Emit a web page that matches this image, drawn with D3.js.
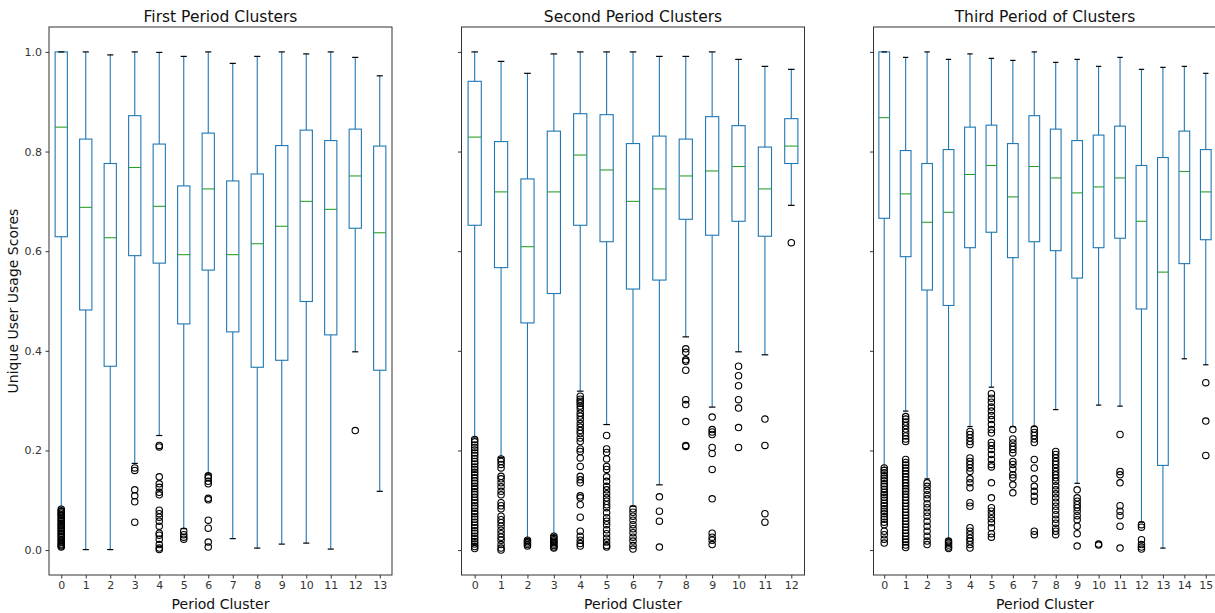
<!DOCTYPE html>
<html>
<head>
<meta charset="utf-8">
<script src="https://cdnjs.cloudflare.com/ajax/libs/d3/7.8.5/d3.min.js"></script>
<style>
  body { margin: 0; background: #fff; }
  text { font-family: "DejaVu Sans", sans-serif; }
</style>
</head>
<body>
<svg id="chart" width="1215" height="613"></svg>
<script>
// ---- data ----
var yTicks = [0.0, 0.2, 0.4, 0.6, 0.8, 1.0];

// first period
var p1Clusters = [0,1,2,3,4,5,6,7,8,9,10,11,12,13];
var p1Hi  = [1.0,1.0,0.994,1.0,0.999,0.991,1.0,0.977,0.991,1.0,0.996,1.0,0.989,0.952];
var p1Q3  = [1.0,0.825,0.776,0.872,0.815,0.731,0.837,0.741,0.755,0.812,0.843,0.822,0.845,0.811];
var p1Med = [0.849,0.688,0.627,0.768,0.690,0.593,0.725,0.593,0.615,0.650,0.700,0.684,0.751,0.637];
var p1Q1  = [0.629,0.482,0.369,0.591,0.576,0.454,0.562,0.438,0.367,0.381,0.499,0.432,0.646,0.361];
var p1Lo  = [0.083,0.001,0.001,0.174,0.230,0.043,0.153,0.023,0.004,0.012,0.014,0.002,0.398,0.118];
var p1Fliers = [
  [0.082,0.079,0.077,0.074,0.071,0.069,0.066,0.063,0.06,0.058,0.054,0.051,0.049,0.046,0.043,0.04,0.037,0.034,0.031,0.028,0.025,0.021,0.018,0.015,0.012,0.01,0.008,0.006],
  [], [],
  [0.165,0.16,0.121,0.109,0.097,0.056],
  [0.21,0.207,0.147,0.133,0.126,0.116,0.111,0.08,0.073,0.066,0.058,0.048,0.034,0.03,0.022,0.011,0.004,0.001],
  [0.038,0.031,0.026,0.022],
  [0.149,0.145,0.138,0.133,0.104,0.101,0.06,0.044,0.016,0.006],
  [], [], [], [], [],
  [0.24],
  []
];

// second period
var p2Clusters = [0,1,2,3,4,5,6,7,8,9,10,11,12];
var p2Hi  = [1.0,0.981,0.957,0.996,1.0,1.0,1.0,0.991,0.991,1.0,0.985,0.971,0.965];
var p2Q3  = [0.941,0.820,0.745,0.841,0.876,0.874,0.816,0.831,0.825,0.870,0.852,0.809,0.866];
var p2Med = [0.829,0.719,0.609,0.719,0.793,0.763,0.700,0.725,0.751,0.761,0.770,0.725,0.811];
var p2Q1  = [0.652,0.567,0.456,0.515,0.652,0.619,0.524,0.542,0.664,0.632,0.660,0.630,0.776];
var p2Lo  = [0.225,0.186,0.022,0.029,0.319,0.252,0.088,0.131,0.428,0.287,0.398,0.392,0.692];
var p2Fliers = [
  [0.222,0.217,0.211,0.206,0.201,0.195,0.19,0.184,0.178,0.173,0.167,0.162,0.156,0.151,0.145,0.139,0.134,0.128,0.123,0.117,0.112,0.106,0.1,0.095,0.089,0.084,0.078,0.073,0.067,0.062,0.056,0.05,0.045,0.039,0.034,0.028,0.023,0.017,0.012,0.007,0.003],
  [0.183,0.178,0.172,0.165,0.148,0.143,0.135,0.127,0.118,0.111,0.095,0.089,0.083,0.068,0.061,0.055,0.048,0.04,0.033,0.026,0.02,0.011,0.004,0.0],
  [0.02,0.017,0.014,0.011,0.008],
  [0.028,0.025,0.021,0.018,0.015,0.012,0.009,0.006,0.004],
  [0.309,0.303,0.299,0.295,0.289,0.283,0.275,0.269,0.262,0.254,0.247,0.24,0.234,0.225,0.218,0.203,0.198,0.185,0.168,0.148,0.141,0.135,0.109,0.105,0.091,0.066,0.038,0.028,0.02,0.013,0.008],
  [0.23,0.203,0.196,0.183,0.168,0.162,0.147,0.138,0.128,0.121,0.113,0.105,0.098,0.091,0.085,0.075,0.065,0.058,0.051,0.041,0.033,0.024,0.016,0.009,0.006],
  [0.083,0.076,0.068,0.06,0.051,0.043,0.035,0.026,0.018,0.009,0.002],
  [0.107,0.078,0.058,0.006],
  [0.404,0.397,0.382,0.379,0.361,0.302,0.292,0.258,0.21,0.208],
  [0.267,0.242,0.237,0.232,0.206,0.194,0.162,0.103,0.034,0.026,0.02,0.011],
  [0.369,0.35,0.33,0.302,0.285,0.246,0.206],
  [0.263,0.21,0.073,0.056],
  [0.617]
];

// third period
var p3Clusters = [0,1,2,3,4,5,6,7,8,9,10,11,12,13,14,15];
var p3Hi  = [1.0,0.989,1.0,0.985,0.996,0.987,0.983,1.0,0.979,0.985,0.971,0.989,0.965,0.969,0.971,0.957];
var p3Q3  = [1.0,0.802,0.776,0.804,0.849,0.853,0.816,0.872,0.845,0.822,0.833,0.851,0.772,0.788,0.841,0.804];
var p3Med = [0.868,0.715,0.658,0.678,0.754,0.772,0.709,0.770,0.747,0.717,0.729,0.747,0.660,0.558,0.760,0.719];
var p3Q1  = [0.666,0.589,0.522,0.491,0.607,0.638,0.587,0.619,0.601,0.546,0.607,0.626,0.484,0.170,0.575,0.623];
var p3Lo  = [0.166,0.279,0.143,0.022,0.248,0.327,0.248,0.248,0.282,0.134,0.291,0.289,0.056,0.004,0.384,0.372];
var p3Fliers = [
  [0.165,0.16,0.155,0.149,0.144,0.139,0.133,0.128,0.122,0.116,0.111,0.106,0.1,0.094,0.089,0.083,0.078,0.073,0.067,0.062,0.056,0.051,0.038,0.031,0.022,0.014],
  [0.268,0.263,0.257,0.25,0.243,0.236,0.229,0.223,0.218,0.182,0.176,0.171,0.165,0.159,0.153,0.147,0.141,0.135,0.129,0.123,0.118,0.112,0.106,0.1,0.094,0.088,0.082,0.076,0.07,0.064,0.058,0.052,0.046,0.04,0.034,0.028,0.022,0.016,0.01,0.005],
  [0.135,0.128,0.12,0.111,0.103,0.093,0.085,0.076,0.068,0.058,0.048,0.038,0.028,0.018,0.011],
  [0.018,0.014,0.01,0.006,0.003],
  [0.238,0.232,0.225,0.218,0.212,0.185,0.178,0.172,0.165,0.158,0.143,0.135,0.125,0.095,0.088,0.045,0.038,0.031,0.024,0.018,0.011,0.004],
  [0.314,0.305,0.297,0.287,0.279,0.27,0.262,0.252,0.242,0.235,0.216,0.21,0.202,0.192,0.182,0.172,0.167,0.135,0.105,0.085,0.078,0.071,0.063,0.055,0.045,0.033,0.026],
  [0.242,0.223,0.215,0.208,0.202,0.195,0.178,0.172,0.163,0.151,0.145,0.131,0.115],
  [0.243,0.236,0.23,0.223,0.216,0.182,0.165,0.143,0.128,0.118,0.108,0.098,0.038,0.031],
  [0.198,0.192,0.185,0.178,0.172,0.165,0.158,0.151,0.145,0.138,0.129,0.121,0.113,0.105,0.096,0.088,0.08,0.071,0.062,0.054,0.044,0.038,0.031],
  [0.121,0.105,0.098,0.091,0.085,0.078,0.069,0.061,0.048,0.033,0.008],
  [0.012,0.01],
  [0.232,0.158,0.151,0.135,0.089,0.078,0.069,0.048,0.004],
  [0.051,0.046,0.021,0.011,0.006,0.002],
  [],
  [],
  [0.336,0.259,0.19]
];

// ---- layout ----
var plotTop = 27, plotBottom = 575, panelW = 343;
var boxColor = "#1f77b4", medColor = "#2ca02c";

var svg = d3.select("#chart");

var y = d3.scaleLinear().domain([-0.05, 1.05]).range([plotBottom, plotTop]);

function buildBoxPanel(opts) {
  var n = opts.clusters.length;
  var g = svg.append("g").attr("transform", "translate(" + opts.left + ",0)");

  var x = d3.scaleLinear().domain([-0.5, n - 0.5]).range([0, panelW]);
  var unit = x(1) - x(0);
  var bw = unit * 0.5, cw = unit * 0.25;

  var rows = opts.clusters.map(function(c, i) {
    return {c: c, hi: opts.hi[i], q3: opts.q3[i], med: opts.med[i], q1: opts.q1[i], lo: opts.lo[i], fl: opts.fliers[i]};
  });

  var xAxis = d3.axisBottom(x).tickValues(opts.clusters).tickFormat(d3.format("d")).tickSize(3.5).tickPadding(3);
  var yAxis = d3.axisLeft(y).tickValues(yTicks).tickSize(3.5).tickPadding(3.5)
      .tickFormat(opts.yLabels ? d3.format(".1f") : function() { return ""; });

  var xa = g.append("g").attr("transform", "translate(0," + plotBottom + ")").call(xAxis);
  var ya = g.append("g").call(yAxis);
  [xa, ya].forEach(function(a) {
    a.select(".domain").remove();
    a.selectAll(".tick line").attr("stroke", "#333");
    a.selectAll(".tick text").attr("fill", "#333").style("font-size", "11px").style("font-family", "'DejaVu Sans', sans-serif");
  });

  var b = g.selectAll(".bx").data(rows).enter().append("g").attr("class", "bx");

  b.append("rect")
    .attr("x", function(d) { return x(d.c) - bw / 2; })
    .attr("y", function(d) { return y(d.q3); })
    .attr("width", bw)
    .attr("height", function(d) { return y(d.q1) - y(d.q3); })
    .attr("fill", "none").attr("stroke", boxColor).attr("stroke-width", 1.1);

  // whiskers
  b.append("line")
    .attr("x1", function(d) { return x(d.c); }).attr("x2", function(d) { return x(d.c); })
    .attr("y1", function(d) { return y(d.q3); }).attr("y2", function(d) { return y(d.hi); })
    .attr("stroke", boxColor).attr("stroke-width", 1.1);
  b.append("line")
    .attr("x1", function(d) { return x(d.c); }).attr("x2", function(d) { return x(d.c); })
    .attr("y1", function(d) { return y(d.q1); }).attr("y2", function(d) { return y(d.lo); })
    .attr("stroke", boxColor).attr("stroke-width", 1.1);

  // caps
  ["hi", "lo"].forEach(function(k) {
    b.append("line")
      .attr("x1", function(d) { return x(d.c) - cw / 2; }).attr("x2", function(d) { return x(d.c) + cw / 2; })
      .attr("y1", function(d) { return y(d[k]); }).attr("y2", function(d) { return y(d[k]); })
      .attr("stroke", "#000").attr("stroke-width", 1.2);
  });

  // medians
  b.append("line")
    .attr("x1", function(d) { return x(d.c) - bw / 2; }).attr("x2", function(d) { return x(d.c) + bw / 2; })
    .attr("y1", function(d) { return y(d.med); }).attr("y2", function(d) { return y(d.med); })
    .attr("stroke", medColor).attr("stroke-width", 1.1);

  // fliers
  b.selectAll("circle")
    .data(function(d) { return d.fl.map(function(v) { return {c: d.c, v: v}; }); })
    .enter().append("circle")
    .attr("cx", function(d) { return x(d.c); })
    .attr("cy", function(d) { return y(d.v); })
    .attr("r", 3.2)
    .attr("fill", "none").attr("stroke", "#000").attr("stroke-width", 1.1);

  // frame
  g.append("rect")
    .attr("x", 0).attr("y", plotTop).attr("width", panelW).attr("height", plotBottom - plotTop)
    .attr("fill", "none").attr("stroke", "#333").attr("stroke-width", 1);

  g.append("text")
    .attr("x", panelW / 2).attr("y", 22)
    .attr("text-anchor", "middle").style("font-size", "15.5px").attr("fill", "#111")
    .text(opts.title);

  g.append("text")
    .attr("x", panelW / 2).attr("y", 609)
    .attr("text-anchor", "middle").style("font-size", "14px").attr("fill", "#111")
    .text("Period Cluster");
}

buildBoxPanel({left: 49, title: "First Period Clusters", clusters: p1Clusters, hi: p1Hi, q3: p1Q3, med: p1Med, q1: p1Q1, lo: p1Lo, fliers: p1Fliers, yLabels: true});
buildBoxPanel({left: 461.5, title: "Second Period Clusters", clusters: p2Clusters, hi: p2Hi, q3: p2Q3, med: p2Med, q1: p2Q1, lo: p2Lo, fliers: p2Fliers, yLabels: false});
buildBoxPanel({left: 873.5, title: "Third Period of Clusters", clusters: p3Clusters, hi: p3Hi, q3: p3Q3, med: p3Med, q1: p3Q1, lo: p3Lo, fliers: p3Fliers, yLabels: false});

svg.append("text")
  .attr("transform", "translate(18," + ((plotTop + plotBottom) / 2) + ") rotate(-90)")
  .attr("text-anchor", "middle").style("font-size", "14px").attr("fill", "#111")
  .text("Unique User Usage Scores");
</script>
</body>
</html>
